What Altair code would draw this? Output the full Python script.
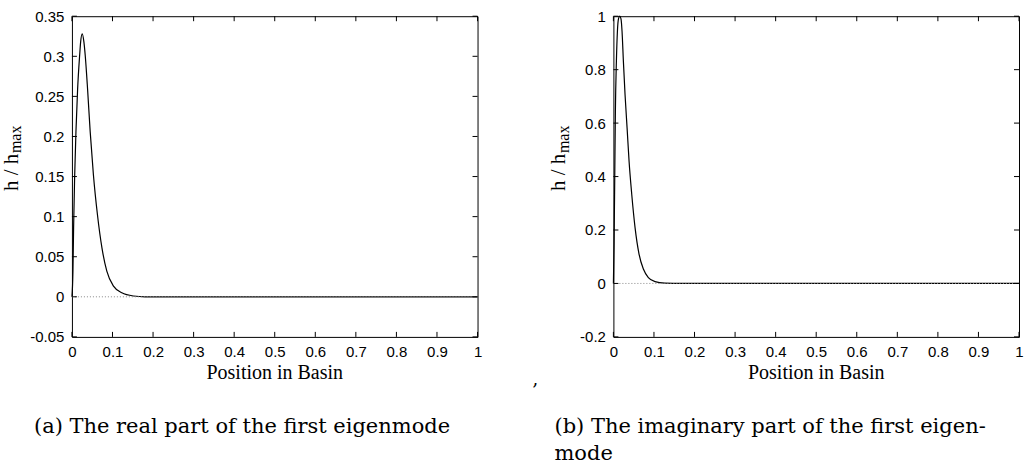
import altair as alt
import pandas as pd

# ---- data ----
real_x = [0.0, 0.0025, 0.0041, 0.0066, 0.0099, 0.014, 0.019, 0.0215, 0.0254, 0.0295, 0.0328,
          0.0386, 0.045, 0.053, 0.063, 0.074, 0.086, 0.103, 0.123, 0.152, 0.18, 0.25, 1.0]
real_y = [0.0, 0.032, 0.086, 0.148, 0.206, 0.259, 0.301, 0.318, 0.328, 0.318, 0.301,
          0.259, 0.206, 0.152, 0.102, 0.061, 0.032, 0.013, 0.005, 0.001, 0.0, 0.0, 0.0]

imag_x = [0.0, 0.0016, 0.0033, 0.0049, 0.0074, 0.0099, 0.0125, 0.0156, 0.0187, 0.0213, 0.0246,
          0.0287, 0.0337, 0.0386, 0.0452, 0.0534, 0.0632, 0.0739, 0.0862, 0.1026, 0.127, 0.168, 1.0]
imag_y = [0.0, 0.147, 0.396, 0.645, 0.832, 0.944, 0.99, 1.0, 0.99, 0.944, 0.832,
          0.707, 0.583, 0.458, 0.334, 0.209, 0.110, 0.054, 0.022, 0.007, 0.0015, 0.0, 0.0]

x_ticks = [0, 0.1, 0.2, 0.3, 0.4, 0.5, 0.6, 0.7, 0.8, 0.9, 1.0]
real_y_ticks = [-0.05, 0, 0.05, 0.1, 0.15, 0.2, 0.25, 0.3, 0.35]
imag_y_ticks = [-0.2, 0, 0.2, 0.4, 0.6, 0.8, 1.0]

x_title = ["Position in Basin"]
y_title_main = ["h / h"]
y_title_sub = ["max"]
caption_a = ["(a) The real part of the first eigenmode"]
caption_b = ["(b) The imaginary part of the first eigen-", "mode"]
separator = [","]

W, H = 406, 321
TICK = 5
LABEL_EXPR = "toString(round(datum.value*100)/100)"


def text_layer(strings, x, y, size, font, align="left", baseline="middle", angle=0):
    return alt.Chart(pd.DataFrame({"s": strings})).mark_text(
        align=align, baseline=baseline, font=font, fontSize=size, color="black", angle=angle
    ).encode(text="s:N", x=alt.value(x), y=alt.value(y))


def panel(xs, ys, yticks, ydomain, title_dx, extra):
    df = pd.DataFrame({"x": xs, "y": ys})
    xscale = alt.Scale(domain=[0, 1], nice=False, zero=False)
    yscale = alt.Scale(domain=ydomain, nice=False, zero=False)
    xaxis = alt.Axis(values=x_ticks, title=None, ticks=False, tickSize=0, domain=False, grid=False,
                     labelPadding=8, labelExpr=LABEL_EXPR, labelFont="Liberation Sans",
                     labelFontSize=15, labelColor="black", labelFlush=False)
    yaxis = alt.Axis(values=yticks, title=None, ticks=False, tickSize=0, domain=False, grid=False,
                     labelPadding=8, labelExpr=LABEL_EXPR, labelFont="Liberation Sans",
                     labelFontSize=15, labelColor="black", labelFlush=False)

    line = alt.Chart(df).mark_line(color="black", strokeWidth=1.2, interpolate="monotone").encode(
        x=alt.X("x:Q", scale=xscale, axis=xaxis, title=None),
        y=alt.Y("y:Q", scale=yscale, axis=yaxis, title=None),
    )

    zero = alt.Chart(pd.DataFrame({"z": [0]})).mark_rule(
        color="#888888", strokeDash=[1, 2], strokeWidth=1
    ).encode(y=alt.Y("z:Q", scale=yscale, axis=yaxis, title=None), x=alt.value(0), x2=alt.value(W))

    xt = pd.DataFrame({"t": x_ticks})
    yt = pd.DataFrame({"t": yticks})
    tb = alt.Chart(xt).mark_rule(color="black").encode(
        x=alt.X("t:Q", scale=xscale, axis=xaxis, title=None), y=alt.value(H), y2=alt.value(H - TICK))
    tt = alt.Chart(xt).mark_rule(color="black").encode(
        x=alt.X("t:Q", scale=xscale, axis=xaxis, title=None), y=alt.value(0), y2=alt.value(TICK))
    tl = alt.Chart(yt).mark_rule(color="black").encode(
        y=alt.Y("t:Q", scale=yscale, axis=yaxis, title=None), x=alt.value(0), x2=alt.value(TICK))
    tr = alt.Chart(yt).mark_rule(color="black").encode(
        y=alt.Y("t:Q", scale=yscale, axis=yaxis, title=None), x=alt.value(W), x2=alt.value(W - TICK))

    xt_text = text_layer(x_title, W / 2, 357, 20, "Liberation Serif", align="center")
    yt_main = text_layer(y_title_main, title_dx, 175, 21, "Liberation Serif",
                         baseline="alphabetic", angle=270)
    yt_sub = text_layer(y_title_sub, title_dx + 3.5, 137, 16, "Liberation Serif",
                        baseline="alphabetic", angle=270)

    layers = [line, zero, tb, tt, tl, tr, xt_text, yt_main, yt_sub] + extra
    return alt.layer(*layers).properties(width=W, height=H)


anchor = alt.Chart(pd.DataFrame({"a": [0]})).mark_rule(color="white", strokeWidth=1).encode(
    x=alt.value(-70.5), x2=alt.value(-69.5), y=alt.value(-14.5))

left_extra = [
    anchor,
    text_layer(caption_a, -38, 411, 21, "DejaVu Serif"),
    text_layer(separator, 461, 364, 18, "DejaVu Serif"),
]
right_extra = [
    text_layer(caption_b[:1], -59, 411, 21, "DejaVu Serif"),
    text_layer(caption_b[1:], -59, 438, 21, "DejaVu Serif"),
]

left = panel(real_x, real_y, real_y_ticks, [-0.05, 0.35], -54, left_extra)
right = panel(imag_x, imag_y, imag_y_ticks, [-0.2, 1.0], -48, right_extra)

chart = alt.hconcat(left, right, spacing=136, bounds="flush").properties(
    padding={"left": 0, "top": 0, "right": 0, "bottom": 0},
    background="white",
).configure_view(stroke="black", strokeWidth=1)

chart.save("out.html", embed_options={"renderer": "svg", "actions": False})
